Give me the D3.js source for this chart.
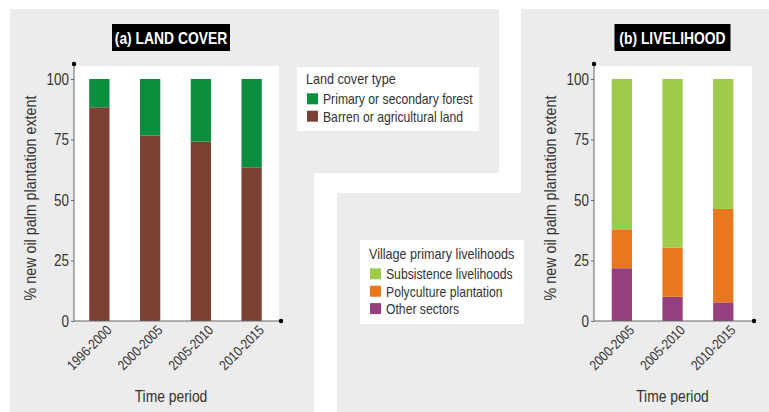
<!DOCTYPE html>
<html lang="en">
<head>
<meta charset="UTF-8">
<title>New oil palm plantation extent</title>
<style>
  body { margin: 0; background: #fff; }
  svg { display: block; font-family: "Liberation Sans", Arial, sans-serif; }
  .tick text { font-size: 16px; fill: #333; }
  .xaxis .tick text { font-size: 14px; }
  .domain { stroke: #666; }
  .tick line { stroke: #666; }
  .title-box { fill: #000; }
  .title-txt { fill: #fff; font-weight: bold; font-size: 16.5px; }
  .lab { fill: #333; font-size: 16.5px; }
  .ylab { fill: #333; font-size: 17px; }
  .leg { fill: #333; font-size: 14.5px; }
  .leg-t { fill: #333; font-size: 15px; }
</style>
</head>
<body>
<div id="chart"></div>
<script src="https://d3js.org/d3.v7.min.js"></script>
<script>
// ---- data ----
var periodsA = ["1996-2000", "2000-2005", "2005-2010", "2010-2015"];
var barrenA  = [88.3, 76.6, 74.1, 63.5];
var forestA  = [11.7, 23.4, 25.9, 36.5];

var periodsB = ["2000-2005", "2005-2010", "2010-2015"];
var otherB   = [21.8, 10.0, 7.7];
var polyB    = [15.8, 20.3, 38.6];
var subsB    = [62.4, 69.7, 53.7];

var yTicks = [0, 25, 50, 75, 100];

var colForest = "#0b8e3e", colBarren = "#7b4133";
var colSubs = "#9ecb4c", colPoly = "#e8771f", colOther = "#963f7d";

var width = 769, height = 412;
var svg = d3.select("#chart").append("svg")
  .attr("width", width).attr("height", height);

// grey panels
svg.append("path").attr("fill", "#ececec")
  .attr("d", "M10,9H499V173H314V412H10Z");
svg.append("path").attr("fill", "#ececec")
  .attr("d", "M521,9H769V412H337V193H521Z");

var y = d3.scaleLinear().domain([0, 100]).range([321, 79]);

function panel(opt) {
  var g = svg.append("g");
  var x = d3.scaleBand().domain(opt.cats).range(opt.xr)
    .paddingInner(0.6).paddingOuter(0.3);

  g.append("rect").attr("fill", "#fff")
    .attr("x", opt.ax).attr("y", 66)
    .attr("width", opt.pr - opt.ax).attr("height", 321 - 66);

  var rows = opt.cats.map(function(c, i) {
    var r = { cat: c };
    opt.keys.forEach(function(k, j) { r[k] = opt.series[j][i]; });
    return r;
  });
  var stack = d3.stack().keys(opt.keys)(rows);
  g.selectAll(".layer").data(stack).enter().append("g")
    .attr("fill", function(d, i) { return opt.colors[i]; })
    .selectAll("rect").data(function(d) { return d; }).enter().append("rect")
    .attr("x", function(d) { return x(d.data.cat); })
    .attr("width", x.bandwidth())
    .attr("y", function(d) { return y(d[1]); })
    .attr("height", function(d) { return y(d[0]) - y(d[1]); });

  // y axis
  var ya = g.append("g").attr("transform", "translate(" + opt.ax + ",0)")
    .call(d3.axisLeft(y).tickValues(yTicks).tickSize(3).tickPadding(2));
  ya.select(".domain").attr("d", "M0,64V321");
  g.append("circle").attr("cx", opt.ax).attr("cy", 64).attr("r", 2.2).attr("fill", "#000");

  // x axis
  var xa = g.append("g").attr("class", "xaxis").attr("transform", "translate(0,321)")
    .call(d3.axisBottom(x).tickSize(0).tickPadding(6));
  xa.select(".domain").attr("d", "M" + opt.ax + ",0H" + opt.xend);
  xa.selectAll(".tick text")
    .attr("text-anchor", "end")
    .attr("dy", "0.5em")
    .attr("transform", "translate(4,1) rotate(-45)");
  g.append("circle").attr("cx", opt.xend).attr("cy", 321).attr("r", 2.2).attr("fill", "#000");

  // axis labels
  g.append("text").attr("class", "ylab")
    .attr("transform", "translate(" + opt.ylx + ",198) rotate(-90)")
    .attr("text-anchor", "middle")
    .text("% new oil palm plantation extent");
  g.append("text").attr("class", "lab")
    .attr("x", opt.tc).attr("y", 401.5).attr("text-anchor", "middle")
    .text("Time period");

  // title
  g.append("rect").attr("class", "title-box")
    .attr("x", opt.tc - opt.tw / 2).attr("y", 24).attr("width", opt.tw).attr("height", 27);
  g.append("text").attr("class", "title-txt")
    .attr("x", opt.tc).attr("y", 44.3).attr("text-anchor", "middle").text(opt.title);

  // legend
  var L = opt.leg;
  g.append("rect").attr("fill", "#fff")
    .attr("x", L.x).attr("y", L.y).attr("width", L.w).attr("height", L.h);
  g.append("text").attr("class", "leg-t")
    .attr("x", L.x + 9).attr("y", L.y + L.ty).text(L.title);
  var items = g.selectAll(".li").data(L.labels).enter().append("g")
    .attr("transform", function(d, i) { return "translate(" + (L.x + 10) + "," + (L.y + L.sy + i * L.step) + ")"; });
  items.append("rect").attr("width", 11).attr("height", 11)
    .attr("fill", function(d, i) { return L.colors[i]; });
  items.append("text").attr("class", "leg").attr("x", 16).attr("y", 10.8)
    .text(function(d) { return d; });
}

panel({
  cats: periodsA, keys: ["barren", "forest"], series: [barrenA, forestA],
  colors: [colBarren, colForest],
  xr: [74, 277], ax: 74, pr: 279, xend: 281, ylx: 36, tc: 171,
  title: "(a) LAND COVER", tw: 118,
  leg: { x: 297, y: 67, w: 182, h: 64, title: "Land cover type", ty: 17, sy: 26.3, step: 17.4,
         labels: ["Primary or secondary forest", "Barren or agricultural land"],
         colors: [colForest, colBarren] }
});

panel({
  cats: periodsB, keys: ["other", "poly", "subs"], series: [otherB, polyB, subsB],
  colors: [colOther, colPoly, colSubs],
  xr: [596.5, 748.6], ax: 594, pr: 752, xend: 754, ylx: 556, tc: 672.5,
  title: "(b) LIVELIHOOD", tw: 116,
  leg: { x: 360, y: 240, w: 164, h: 84, title: "Village primary livelihoods", ty: 18.5, sy: 28.3, step: 17.4,
         labels: ["Subsistence livelihoods", "Polyculture plantation", "Other sectors"],
         colors: [colSubs, colPoly, colOther] }
});

// narrow the glyphs to match the condensed face of the original
svg.selectAll("text").each(function() {
  var len = this.getComputedTextLength();
  d3.select(this).attr("textLength", (len * 0.84).toFixed(1))
    .attr("lengthAdjust", "spacingAndGlyphs");
});
</script>
</body>
</html>
